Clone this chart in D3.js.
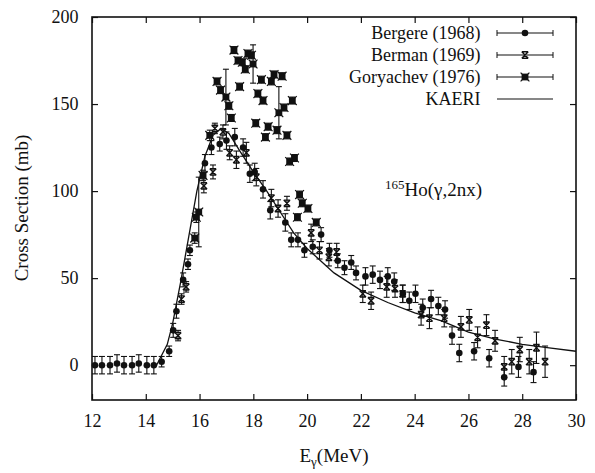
<!DOCTYPE html>
<html><head><meta charset="utf-8">
<script src="https://cdn.jsdelivr.net/npm/d3@7/dist/d3.min.js"></script>
<style>body{margin:0;background:#fff}svg{display:block}</style>
</head><body><svg id="c" width="595" height="473"></svg>
<script>
// Bergere (1968): [E, sigma, err]
const bergere = [
[12.11,0,5],[12.37,0,5],[12.67,0,5],[12.93,1,5],[13.19,0,5],[13.49,0,5],[13.74,1,5],[14.04,0,5],[14.30,0,5],
[14.59,2,3],[14.87,8,3],[15.02,20,4],[15.14,31,4],[15.39,49,4],[15.57,58,3],[15.64,66,3],
[16.20,116,5],[16.44,125,4],[16.75,127,4],[17.00,129,5],[17.31,131,5],[17.62,125,5],[17.87,110,5],
[18.05,111,5],[18.36,101,5],[18.63,89,5],[19.19,82,5],[19.41,72,4],[19.66,72,4],[19.90,66,4],
[20.21,68,4],[20.52,75,4],[20.83,66,4],[21.14,60,4],[21.39,56,4],[21.64,59,4],[21.82,53,4],
[22.17,51,5],[22.44,52,5],[22.71,49,5],[23.00,51,5],[23.24,48,5],[23.56,41,5],[23.80,37,5],
[24.03,41,5],[24.30,33,5],[24.61,38,5],[24.88,34,5],[25.13,32,5],[25.39,17,5],[25.66,7,5],
[26.21,8,5],[26.77,4,5],[27.33,-7,5],[27.86,-1,6],[28.42,-4,6]
];
// Berman (1969)
const berman = [
[15.20,17,3],[15.33,38,3],[15.50,45,3],[16.16,103,4],[16.50,111,4],[16.57,136,3],[16.87,134,4],
[17.12,122,4],[17.37,118,5],[17.74,122,6],[18.11,108,5],[18.67,96,5],[18.92,90,5],[19.25,93,4],
[20.15,76,5],[20.46,66,5],[20.81,62,5],[21.10,65,5],[22.07,41,5],[22.38,37,5],[22.96,45,6],
[23.27,44,5],[23.55,41,5],[24.24,29,6],[24.55,27,6],[25.10,27,5],[25.72,22,6],[26.03,26,6],
[26.34,16,6],[26.67,23,6],[26.99,14,6],[27.33,-1,6],[27.61,2,7],[27.91,9,7],[28.26,2,7],
[28.53,10,9],[28.85,2,9]
];
// Goryachev (1976)
const goryachev = [
[15.82,73,3],[15.88,85,3],[15.97,88,20],[16.13,109,3],[16.38,132,3],[16.65,163,2],[16.78,158,2],
[16.98,154,16],[17.09,149,2],[17.18,142,2],[17.28,181,2],[17.43,175,2],[17.49,160,2],[17.59,174,2],
[17.70,170,2],[17.80,179,2],[17.93,178,2],[17.99,173,11],[18.09,139,2],[18.17,156,2],[18.30,164,2],
[18.36,152,2],[18.45,131,2],[18.55,137,2],[18.67,163,2],[18.77,167,2],[18.88,135,2],[18.95,145,15],
[19.07,166,2],[19.14,148,2],[19.25,132,2],[19.35,117,2],[19.45,152,2],[19.53,119,2],[19.64,85,2],
[19.72,98,2],[19.82,93,2],[20.03,90,2],[20.34,82,2]
];
// KAERI evaluation
const kaeri = [
[14.4,0],[14.8,12],[15.0,24],[15.3,48],[15.6,74],[15.9,100],[16.2,120],[16.5,132],[16.8,136],
[17.1,133],[17.5,123],[18.0,111],[18.5,100],[19.0,88],[19.5,76],[20.0,67],[20.5,60],[21.0,53],
[21.5,48],[22.0,43],[23.0,36],[24.0,30],[25.0,25.5],[26.0,19],[27.0,15],[28.0,12],[29.0,10],[30.0,8]
];
const xTicks = [12,14,16,18,20,22,24,26,28,30];
const yTicks = [0,50,100,150,200];
const legendLabels = ["Bergere (1968)","Berman (1969)","Goryachev (1976)","KAERI"];

const FONT="Liberation Serif";
const NB="\u00A0", TH="\u2009";
const L=92,R=576,T=17,B=400;
const svg=d3.select("#c");
const x=d3.scaleLinear().domain([12,30]).range([L,R]);
const y=d3.scaleLinear().domain([-20,200]).range([B,T]);

function serif(sel,size){return sel.attr("font-family",FONT).style("font-family",`'${FONT}'`).style("font-size",size+"px").attr("fill","#111");}
function nb(s){return s.replace(/ /g,NB);}

const axB=d3.axisBottom(x).tickValues(xTicks).tickSize(-6).tickPadding(14).tickFormat(d=>TH+d3.format("d")(d)+TH);
const axT=d3.axisTop(x).tickValues(xTicks).tickSize(-6).tickFormat("");
const axL=d3.axisLeft(y).tickValues(yTicks).tickSize(-6).tickPadding(10).tickFormat(d=>d3.format("d")(d)+TH);
const axR=d3.axisRight(y).tickValues(yTicks).tickSize(-6).tickFormat("");
function style(g){g.attr("font-family",FONT).attr("font-size",null);g.select(".domain").remove();
 g.selectAll("line").attr("stroke","#111").attr("stroke-width",1.2);
 serif(g.selectAll("text"),18);}
svg.append("g").attr("transform",`translate(0,${B})`).call(axB).call(style);
svg.append("g").attr("transform",`translate(0,${T})`).call(axT).call(style);
svg.append("g").attr("transform",`translate(${L},0)`).call(axL).call(style);
svg.append("g").attr("transform",`translate(${R},0)`).call(axR).call(style);
svg.append("rect").attr("x",L).attr("y",T).attr("width",R-L).attr("height",B-T)
 .attr("fill","none").attr("stroke","#111").attr("stroke-width",1.6);

const plot=svg.append("g");
function errbars(data){
 const g=plot.append("g").attr("stroke","#111").attr("stroke-width",1.1);
 data.forEach(d=>{
  const px=x(d[0]),y1=y(d[1]+d[2]),y2=y(d[1]-d[2]);
  g.append("line").attr("x1",px).attr("x2",px).attr("y1",y1).attr("y2",y2);
  g.append("line").attr("x1",px-3).attr("x2",px+3).attr("y1",y1).attr("y2",y1);
  g.append("line").attr("x1",px-3).attr("x2",px+3).attr("y1",y2).attr("y2",y2);
 });
}
function circleMark(g,px,py){g.append("circle").attr("cx",px).attr("cy",py).attr("r",3.3).attr("fill","#111");}
function xMark(g,px,py){const s=3.2;
 g.append("path").attr("d",`M${px-s},${py-s}L${px+s},${py+s}M${px+s},${py-s}L${px-s},${py+s}M${px-s},${py-s}H${px+s}M${px-s},${py+s}H${px+s}`)
  .attr("stroke","#111").attr("stroke-width",1.4).attr("fill","none");}
function sqMark(g,px,py){const s=3.4;
 g.append("rect").attr("x",px-s).attr("y",py-s).attr("width",2*s).attr("height",2*s).attr("fill","#111");
 g.append("path").attr("d",`M${px-s-1},${py-s-1}L${px+s+1},${py+s+1}M${px+s+1},${py-s-1}L${px-s-1},${py+s+1}`).attr("stroke","#111").attr("stroke-width",1.2);}

errbars(bergere);errbars(berman);errbars(goryachev);
const mg=plot.append("g");
bergere.forEach(d=>circleMark(mg,x(d[0]),y(d[1])));
berman.forEach(d=>xMark(mg,x(d[0]),y(d[1])));
goryachev.forEach(d=>sqMark(mg,x(d[0]),y(d[1])));

plot.append("path").datum(kaeri).attr("fill","none").attr("stroke","#111").attr("stroke-width",1.3)
 .attr("d",d3.line().x(d=>x(d[0])).y(d=>y(d[1])));

// legend
const lg=svg.append("g");
const rowsY=[33,55,77,99];
const markers=[circleMark,xMark,sqMark,null];
legendLabels.forEach((t,i)=>{
 const yy=rowsY[i];
 serif(lg.append("text"),18).attr("x",484).attr("y",yy+6).attr("text-anchor","end").text(nb(t)+TH);
 lg.append("line").attr("x1",497).attr("x2",553).attr("y1",yy).attr("y2",yy).attr("stroke","#111").attr("stroke-width",1.2);
 if(markers[i]){
  lg.append("line").attr("x1",497).attr("x2",497).attr("y1",yy-3).attr("y2",yy+3).attr("stroke","#111");
  lg.append("line").attr("x1",553).attr("x2",553).attr("y1",yy-3).attr("y2",yy+3).attr("stroke","#111");
  markers[i](lg,525,yy);
 }
});

// reaction label
const rl=serif(svg.append("text"),19).attr("x",385).attr("y",196);
serif(rl.append("tspan"),13).attr("dy",-7).text("165");
serif(rl.append("tspan"),19).attr("dy",7).text("Ho(γ,2nx)");

// axis titles
serif(svg.append("text"),19).attr("transform","translate(28,208) rotate(-90)").attr("text-anchor","middle").text(TH+nb("Cross Section (mb)")+TH);
const xt=serif(svg.append("text"),19).attr("x",334).attr("y",462).attr("text-anchor","middle");
serif(xt.append("tspan"),19).text("E");
serif(xt.append("tspan"),13).attr("dy",4).text("γ");
serif(xt.append("tspan"),19).attr("dy",-4).text("(MeV)");
</script></body></html>
